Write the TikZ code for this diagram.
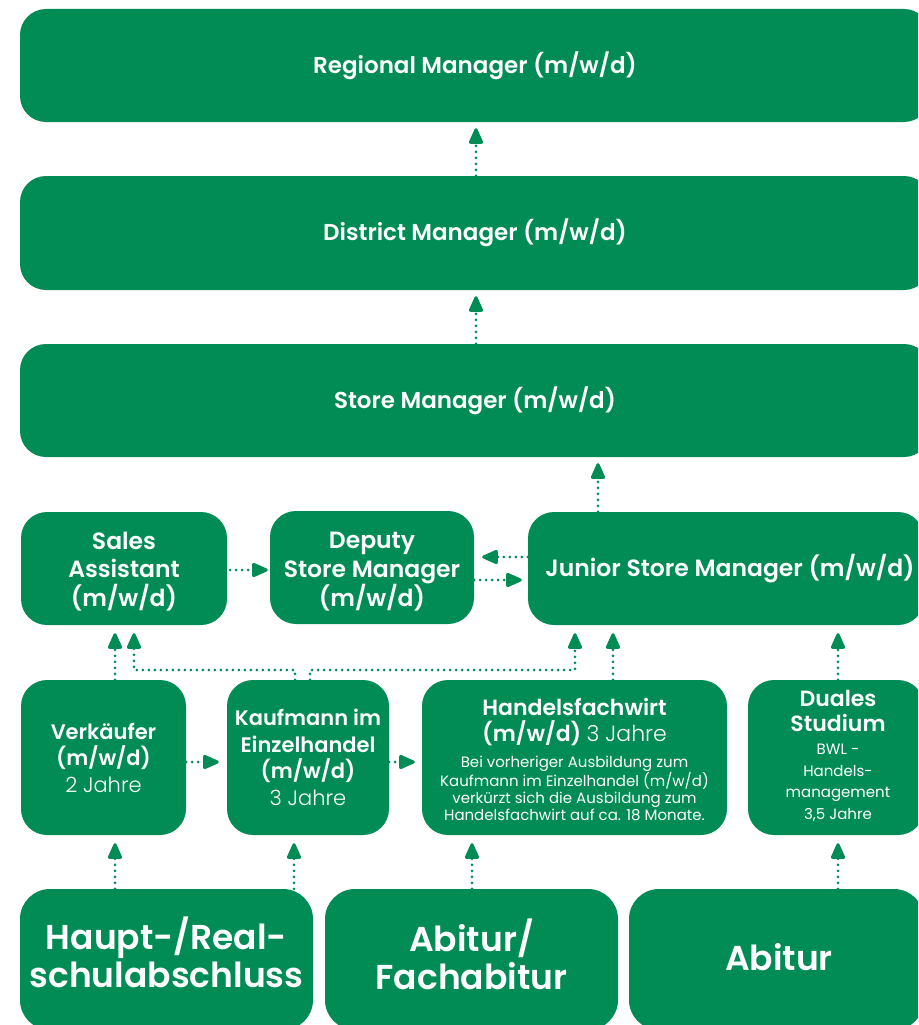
\documentclass[tikz,border=0pt]{standalone}
\usepackage{fontspec}
\setmainfont{Poppins}[BoldFont={Poppins SemiBold}]
\newfontfamily\lightf{Poppins Light}
\usetikzlibrary{arrows.meta}
\definecolor{grn}{RGB}{0,140,84}
\newcommand{\lt}[1]{{\lightf\mdseries #1}}
\begin{document}
\begin{tikzpicture}[x=1pt,y=-1pt,
  box/.style={fill=grn, rounded corners=26pt, text=white, align=center, inner sep=0pt},
  lbl/.style={text=white, align=center, inner sep=0pt},
  topf/.style={font=\fontsize{23}{26}\selectfont\bfseries},
  midf/.style={font=\fontsize{23.5}{28.5}\selectfont\bfseries},
  rowf/.style={font=\fontsize{21}{26.5}\selectfont\bfseries},
  botf/.style={font=\fontsize{34.5}{37.5}\selectfont\bfseries},
  conn/.style={grn, line width=3pt, dash pattern=on 0pt off 6pt, line cap=round,
    -{Triangle[length=18pt,width=15pt,round=false]}},
  sh6/.style={shorten >=6pt},
  sh8/.style={shorten >=8pt}]
\useasboundingbox (0,0) rectangle (918,1025);
\clip (0,0) rectangle (918,1025);
% top boxes
\node[box, topf, minimum width=910pt, minimum height=113pt] (regional) at (475,65.5) {Regional Manager (m/w/d)};
\node[box, topf, minimum width=910pt, minimum height=114pt] (district) at (475,233) {District Manager (m/w/d)};
\node[box, topf, minimum width=910pt, minimum height=113pt] (store) at (475,400.5) {Store Manager (m/w/d)};
% row 2
\node[box, minimum width=206pt, minimum height=113pt] (sales) at (124,568.5) {};
\node[lbl, midf] (salestxt) at (124,571.5) {Sales\\Assistant\\(m/w/d)};
\node[box, minimum width=204pt, minimum height=113pt] (deputy) at (372,567.5) {};
\node[lbl, midf] (deputytxt) at (372,572) {Deputy\\Store Manager\\(m/w/d)};
\node[box, minimum width=396pt, minimum height=113pt] (junior) at (726,568.5) {};
\node[lbl, midf] (juniortxt) at (730,569) {Junior Store Manager (m/w/d)};
% row 3
\node[box, rowf, minimum width=165pt, minimum height=155pt] (verk) at (103.5,757.5) {Verkäufer\\(m/w/d)\\\lt{2 Jahre}};
\node[box, rowf, minimum width=162pt, minimum height=155pt] (kauf) at (308,757.5) {Kaufmann im\\Einzelhandel\\(m/w/d)\\\lt{3 Jahre}};
\node[box, minimum width=305pt, minimum height=155pt] (handels) at (574.5,757.5) {};
\node[lbl, font=\fontsize{22}{26.5}\selectfont\bfseries] (handelstitle) at (574.5,722) {Handelsfachwirt\\(m/w/d) \lt{3 Jahre}};
\node[lbl, font=\fontsize{15}{16.7}\selectfont] (handelsnote) at (574.5,788.5) {Bei vorheriger Ausbildung zum\\Kaufmann im Einzelhandel (m/w/d)\\verkürzt sich die Ausbildung zum\\Handelsfachwirt auf ca. 18 Monate.};
\node[box, minimum width=176pt, minimum height=155pt] (duales) at (836,757.5) {};
\node[lbl, font=\fontsize{22}{25}\selectfont\bfseries] (dualestitle) at (838,711) {Duales\\Studium};
\node[lbl, font=\fontsize{15}{21.5}\selectfont] (dualesnote) at (838,783) {BWL -\\Handels-\\management\\3,5 Jahre};
% row 4
\node[box, rounded corners=30pt, minimum width=293pt, minimum height=141pt] (haupt) at (166.5,959.5) {};
\node[lbl, botf] (haupttxt) at (166.5,952.5) {Haupt-/Real-\\schulabschluss};
\node[box, rounded corners=30pt, minimum width=293pt, minimum height=141pt] (abifach) at (471.5,959.5) {};
\node[lbl, botf] (abifachtxt) at (471.5,954.5) {Abitur/\\Fachabitur};
\node[box, rounded corners=30pt, minimum width=295pt, minimum height=141pt] (abitur) at (776.5,959.5) {};
\node[lbl, botf] (abiturtxt) at (779,957) {Abitur};
% column coordinates
\coordinate (xa) at (476,0);
\coordinate (xb) at (598,0);
\coordinate (x115) at (115,0);
\coordinate (x134) at (134,0);
\coordinate (x295) at (295,0);
\coordinate (x310) at (310,0);
\coordinate (x575) at (575,0);
\coordinate (x613) at (613,0);
\coordinate (x838) at (838,0);
\coordinate (x294) at (294,0);
\coordinate (x472) at (472,0);
\coordinate (y570) at (0,570);
\coordinate (y557) at (0,557);
\coordinate (y580) at (0,580);
\coordinate (y762) at (0,762);
\coordinate (y670) at (0,670);
% top arrows
\draw[conn, sh6] (district.north -| xa) -- (regional.south -| xa);
\draw[conn, sh6] (store.north -| xa) -- (district.south -| xa);
\draw[conn, sh6] (junior.north -| xb) -- (store.south -| xb);
% row 2 arrows
\draw[conn, shorten <=3pt, shorten >=2pt] (sales.east |- y570) -- (deputy.west |- y570);
\draw[conn, shorten >=8pt] (junior.west |- y557) -- (deputy.east |- y557);
\draw[conn, shorten >=6pt] (deputy.east |- y580) -- (junior.west |- y580);
% row 3 to row 2
\draw[conn, sh8] (verk.north -| x115) -- (sales.south -| x115);
\draw[conn, sh8] (kauf.north -| x295) -- (x295 |- y670) -- (x134 |- y670) -- (sales.south -| x134);
\draw[conn, sh8] (kauf.north -| x310) -- (x310 |- y670) -- (x575 |- y670) -- (junior.south -| x575);
\draw[conn, sh8] (handels.north -| x613) -- (junior.south -| x613);
\draw[conn, sh8] (duales.north -| x838) -- (junior.south -| x838);
% row 3 horizontal
\draw[conn, sh8] (verk.east |- y762) -- (kauf.west |- y762);
\draw[conn, shorten >=7pt] (kauf.east |- y762) -- (handels.west |- y762);
% row 4 to row 3
\draw[conn, sh8] (haupt.north -| x115) -- (verk.south -| x115);
\draw[conn, sh8] (haupt.north -| x294) -- (kauf.south -| x294);
\draw[conn, sh8] (abifach.north -| x472) -- (handels.south -| x472);
\draw[conn, sh8] (abitur.north -| x838) -- (duales.south -| x838);
\end{tikzpicture}
\end{document}
